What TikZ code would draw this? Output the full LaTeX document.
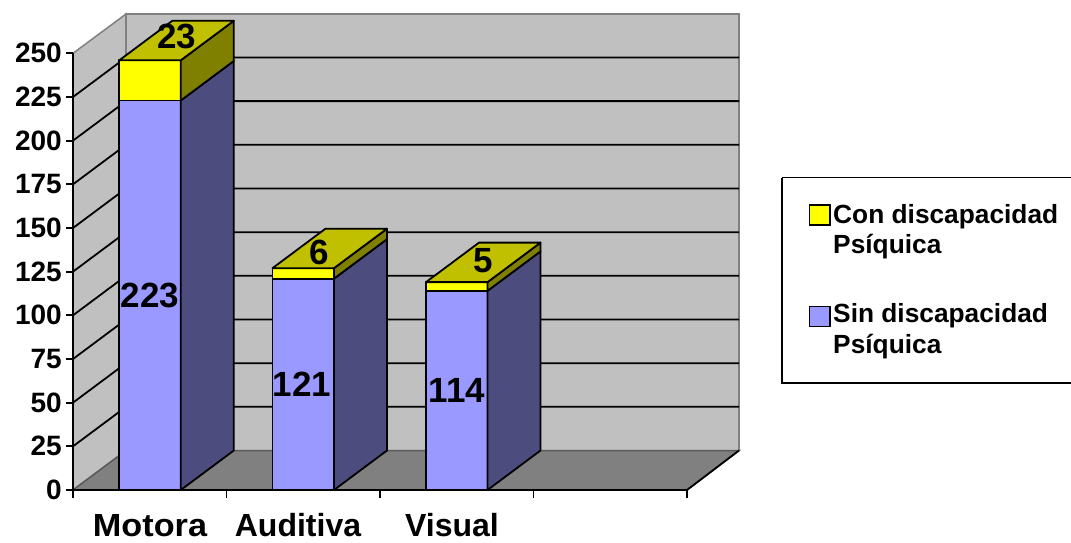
\documentclass[tikz,border=0pt]{standalone}
\usepackage{fontspec}
\setmainfont{Liberation Sans}
\definecolor{wallgray}{HTML}{C0C0C0}
\definecolor{floorgray}{HTML}{808080}
\definecolor{barblue}{HTML}{9999FF}
\definecolor{barside}{HTML}{4C4C7F}
\definecolor{baryel}{HTML}{FFFF00}
\definecolor{yeltop}{HTML}{C0C000}
\definecolor{yelside}{HTML}{808000}
\newcommand\mybar[3]{%
  \pgfmathsetmacro\xa{#1}%
  \pgfmathsetmacro\xb{#1+61.5}%
  \pgfmathsetmacro\ya{490-#2*1.7468}%
  \pgfmathsetmacro\yb{490-(#2+#3)*1.7468}%
  \filldraw[barline, fill=barblue] (\xa,490) rectangle (\xb,\ya);
  \filldraw[barline, fill=barside] (\xb,490) -- (\xb+53,450.5) -- (\xb+53,\ya-39.5) -- (\xb,\ya) -- cycle;
  \filldraw[barline, fill=baryel] (\xa,\ya) rectangle (\xb,\yb);
  \filldraw[barline, fill=yelside] (\xb,\ya) -- (\xb+53,\ya-39.5) -- (\xb+53,\yb-39.5) -- (\xb,\yb) -- cycle;
  \filldraw[barline, fill=yeltop] (\xa,\yb) -- (\xb,\yb) -- (\xb+53,\yb-39.5) -- (\xa+53,\yb-39.5) -- cycle;
}
\begin{document}
\begin{tikzpicture}[x=1pt,y=-1pt,
  wall/.style={fill=wallgray, draw=floorgray, line width=1.5pt},
  gridln/.style={black, line width=1.8pt},
  axisln/.style={black, line width=1.8pt},
  barline/.style={draw=black, line width=1.8pt, line join=round},
  ticklab/.style={anchor=east, inner sep=0pt, font=\bfseries\fontsize{28}{30}\selectfont},
  catlab/.style={anchor=base, inner sep=0pt, font=\bfseries\fontsize{32}{34}\selectfont},
  vallab/.style={inner sep=0pt, font=\bfseries\fontsize{35}{38}\selectfont},
  legtext/.style={anchor=base west, inner sep=0pt, font=\bfseries\fontsize{26.3}{30}\selectfont},
  swatch/.style={draw=black, line width=1.5pt}]
\useasboundingbox (0,0) rectangle (1071,542);
% walls
\filldraw[wall] (73,490) -- (73,53.3) -- (126,14) -- (126,450.5) -- cycle;
\filldraw[wall] (126,14) -- (739,14) -- (739,450.5) -- (126,450.5) -- cycle;
\filldraw[fill=floorgray, draw=floorgray!70!black, line width=1.5pt] (73,490) -- (126,450.5) -- (739,450.5) -- (687,490) -- cycle;
% gridlines
\foreach \v in {25,50,...,225} {
  \pgfmathsetmacro\yf{490-\v*1.7468}
  \draw[gridln] (73,\yf) -- (126,\yf-39.5) -- (739,\yf-39.5);
}
% axes
\draw[axisln] (73,490) -- (73,53.3);
\draw[axisln] (73,490) -- (687,490) -- (739,450.5);
\foreach \v in {0,25,...,250} {
  \pgfmathsetmacro\yf{490-\v*1.7468}
  \draw[axisln] (66,\yf) -- (73,\yf);
  \node[ticklab] (t\v) at (62,\yf) {\v};
}
\foreach \x in {73,226.5,380,533.5,687} {
  \draw[axisln] (\x,490) -- (\x,498);
}
% bars
\mybar{119.3}{223}{23}
\mybar{272.5}{121}{6}
\mybar{426}{114}{5}
% value labels
\node[vallab] (v223) at (150,295.5) {223};
\node[vallab] (v23) at (177,36) {23};
\node[vallab] (v121) at (302,384) {121};
\node[vallab] (v6) at (319,252) {6};
\node[vallab] (v114) at (457,390) {114};
\node[vallab] (v5) at (483,261) {5};
% category labels
\node[catlab] (cm) at (150,536) {\scalebox{1.07}[1]{Motora}};
\node[catlab] (ca) at (298,536) {Auditiva};
\node[catlab] (cv) at (452,536) {Visual};
% legend
\draw[black, line width=1.8pt] (782,177.5) -- (1090,177.5) (782,177.5) -- (782,383) -- (1090,383);
\filldraw[swatch, fill=baryel] (809.5,205) rectangle (830,225);
\filldraw[swatch, fill=barblue] (809.5,306.7) rectangle (830,326.7);
\node[legtext] (l1a) at (833,223) {Con discapacidad};
\node[legtext] (l1b) at (833,253) {Psíquica};
\node[legtext] (l2a) at (833,322) {Sin discapacidad};
\node[legtext] (l2b) at (833,353) {Psíquica};
\end{tikzpicture}
\end{document}
